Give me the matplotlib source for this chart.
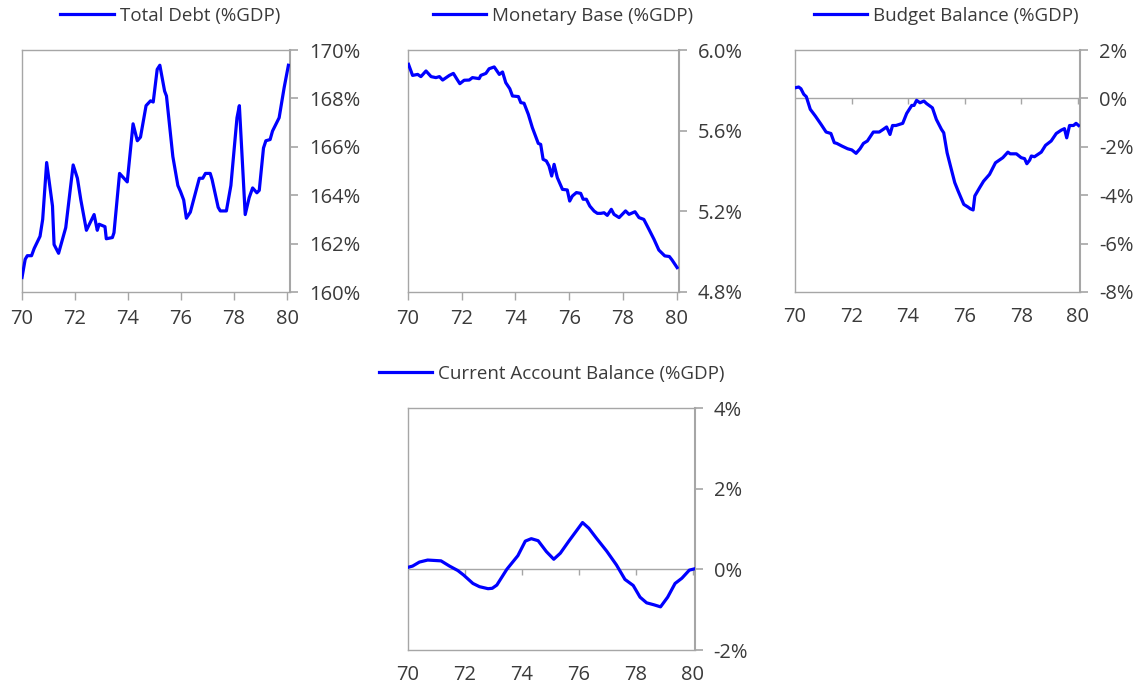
import matplotlib
matplotlib.use("Agg")
import matplotlib.pyplot as plt
from matplotlib.lines import Line2D


# ---- data (decimal years, % of GDP) ----
DEBT_X = [70.0, 70.12, 70.2, 70.36, 70.46, 70.68, 70.78, 70.93, 71.15, 71.21, 71.38, 71.65,
          71.93, 72.09, 72.22, 72.43, 72.72, 72.84, 72.91, 73.13, 73.18, 73.41, 73.47, 73.68,
          73.97, 74.19, 74.35, 74.47, 74.68, 74.85, 74.95, 75.1, 75.2, 75.38, 75.45, 75.69,
          75.88, 75.98, 76.1, 76.2, 76.35, 76.69, 76.82, 76.92, 77.1, 77.17, 77.4, 77.48,
          77.71, 77.88, 78.11, 78.2, 78.42, 78.57, 78.7, 78.86, 78.95, 79.11, 79.2, 79.36,
          79.45, 79.7, 79.89, 80.05]
DEBT_Y = [160.6, 161.35, 161.5, 161.5, 161.8, 162.3, 163.0, 165.35, 163.55, 161.96, 161.6, 162.66,
          165.25, 164.7, 163.8, 162.55, 163.2, 162.55, 162.8, 162.7, 162.2, 162.25, 162.45, 164.9,
          164.55, 166.95, 166.25, 166.4, 167.7, 167.9, 167.85, 169.2, 169.37, 168.3, 168.1, 165.6,
          164.4, 164.15, 163.8, 163.05, 163.3, 164.7, 164.7, 164.9, 164.9, 164.65, 163.5, 163.35,
          163.35, 164.4, 167.2, 167.7, 163.2, 163.9, 164.3, 164.1, 164.2, 165.95, 166.25, 166.3,
          166.65, 167.2, 168.45, 169.37]

BASE_X = [70.02, 70.17, 70.36, 70.48, 70.67, 70.86, 71.04, 71.17, 71.29, 71.54, 71.69, 71.81,
          71.93, 72.09, 72.28, 72.4, 72.65, 72.71, 72.9, 73.02, 73.21, 73.4, 73.52, 73.64,
          73.79, 73.89, 74.11, 74.2, 74.32, 74.48, 74.63, 74.85, 74.94, 75.03, 75.15, 75.25,
          75.35, 75.44, 75.56, 75.75, 75.93, 76.02, 76.12, 76.27, 76.43, 76.52, 76.64, 76.77,
          76.93, 77.05, 77.18, 77.3, 77.42, 77.57, 77.67, 77.86, 78.1, 78.23, 78.45, 78.6,
          78.78, 78.97, 79.16, 79.34, 79.56, 79.73, 79.83, 80.02]
BASE_Y = [5.929, 5.874, 5.879, 5.868, 5.896, 5.868, 5.863, 5.868, 5.851, 5.874, 5.884, 5.858,
          5.833, 5.85, 5.851, 5.863, 5.858, 5.874, 5.884, 5.907, 5.916, 5.879, 5.891, 5.838,
          5.808, 5.772, 5.769, 5.739, 5.736, 5.681, 5.615, 5.537, 5.532, 5.458, 5.45, 5.425,
          5.375, 5.433, 5.367, 5.309, 5.306, 5.251, 5.276, 5.293, 5.289, 5.26, 5.26, 5.226,
          5.201, 5.19, 5.19, 5.193, 5.18, 5.21, 5.185, 5.169, 5.202, 5.185, 5.198, 5.169,
          5.16, 5.111, 5.061, 5.008, 4.979, 4.976, 4.959, 4.921]

BUDGET_X = [70.01, 70.13, 70.21, 70.31, 70.4, 70.54, 70.72, 70.92, 71.1, 71.27, 71.39, 71.48,
            71.66, 71.86, 72.01, 72.16, 72.3, 72.42, 72.56, 72.77, 72.98, 73.12, 73.24, 73.36,
            73.45, 73.57, 73.81, 73.95, 74.13, 74.21, 74.3, 74.42, 74.56, 74.65, 74.86, 75.0,
            75.18, 75.26, 75.38, 75.5, 75.65, 75.77, 75.97, 76.12, 76.2, 76.3, 76.36, 76.53,
            76.67, 76.88, 77.09, 77.35, 77.53, 77.61, 77.83, 78.0, 78.12, 78.2, 78.3, 78.36,
            78.47, 78.71, 78.86, 79.06, 79.24, 79.42, 79.53, 79.61, 79.71, 79.85, 79.94, 80.03]
BUDGET_Y = [0.44, 0.47, 0.4, 0.17, 0.07, -0.45, -0.73, -1.07, -1.39, -1.45, -1.83, -1.86,
            -1.97, -2.08, -2.13, -2.27, -2.08, -1.86, -1.76, -1.39, -1.39, -1.28, -1.18, -1.49,
            -1.12, -1.12, -1.03, -0.62, -0.29, -0.29, -0.08, -0.18, -0.11, -0.21, -0.39, -0.87,
            -1.28, -1.42, -2.25, -2.8, -3.48, -3.83, -4.38, -4.49, -4.56, -4.61, -4.03, -3.69,
            -3.42, -3.14, -2.66, -2.45, -2.22, -2.29, -2.29, -2.45, -2.49, -2.7, -2.55, -2.38,
            -2.41, -2.22, -1.94, -1.76, -1.45, -1.31, -1.25, -1.63, -1.12, -1.12, -1.03, -1.12]

CA_X = [70.0, 70.16, 70.4, 70.69, 70.93, 71.16, 71.46, 71.75, 71.95, 72.28, 72.51, 72.81,
        72.96, 73.12, 73.47, 73.86, 74.12, 74.33, 74.57, 74.86, 75.12, 75.35, 75.65, 76.13,
        76.35, 76.62, 76.98, 77.32, 77.62, 77.91, 78.15, 78.38, 78.64, 78.87, 79.12, 79.38,
        79.62, 79.88, 80.05]
CA_Y = [0.05, 0.08, 0.18, 0.23, 0.22, 0.21, 0.08, -0.03, -0.14, -0.35, -0.43, -0.48,
        -0.47, -0.39, 0.0, 0.34, 0.7, 0.76, 0.71, 0.44, 0.25, 0.4, 0.7, 1.16,
        1.02, 0.77, 0.45, 0.11, -0.25, -0.4, -0.69, -0.83, -0.88, -0.93, -0.69, -0.35,
        -0.22, -0.02, 0.01]

X_TICKS = [70, 72, 74, 76, 78, 80]
X_LABELS = ["70", "72", "74", "76", "78", "80"]

DEBT_TICKS = [160, 162, 164, 166, 168, 170]
DEBT_LABELS = ["160%", "162%", "164%", "166%", "168%", "170%"]
BASE_TICKS = [4.8, 5.2, 5.6, 6.0]
BASE_LABELS = ["4.8%", "5.2%", "5.6%", "6.0%"]
BUDGET_TICKS = [-8, -6, -4, -2, 0, 2]
BUDGET_LABELS = ["-8%", "-6%", "-4%", "-2%", "0%", "2%"]
CA_TICKS = [-2, 0, 2, 4]
CA_LABELS = ["-2%", "0%", "2%", "4%"]

LINE_COLOR = "#0000ff"
FRAME_COLOR = "#a6a6a6"
TEXT_COLOR = "#3a3a3a"
TICK_PX = 6
AX_H_PX = 242

plt.rcParams["font.family"] = ["Open Sans", "DejaVu Sans"]


def make_panel(fig, rect, x, y, title, yticks, ylabels, xmax, legend_x, zero_line):
    ax = fig.add_axes(rect)

    ax.set_xlim(70, xmax)
    ax.set_ylim(yticks[0], yticks[-1])
    ax.set_xticks(X_TICKS)
    ax.set_xticklabels(X_LABELS)
    ax.set_yticks(yticks)
    ax.set_yticklabels(ylabels)

    ax.yaxis.tick_right()
    for side, spine in ax.spines.items():
        spine.set_color(FRAME_COLOR)
        spine.set_linewidth(1.5 if side == "right" else 1.0)

    ax.tick_params(axis="y", direction="out", length=TICK_PX, width=1.2, pad=7.5,
                   color=FRAME_COLOR, labelcolor=TEXT_COLOR, labelsize=14.5)
    ax.tick_params(axis="x", direction="out", length=TICK_PX, width=1.0, pad=6,
                   color=FRAME_COLOR, labelcolor=TEXT_COLOR, labelsize=14.5)

    if zero_line:
        # x ticks hang from the zero line, labels stay at the bottom
        ax.tick_params(axis="x", length=0, pad=10.5)
        ax.axhline(0, color=FRAME_COLOR, lw=1.0, zorder=1)
        drop = TICK_PX / AX_H_PX * (yticks[-1] - yticks[0])
        ax.vlines(X_TICKS[1:], -drop, 0, color=FRAME_COLOR, lw=1.0, zorder=1)

    ax.plot(x, y, color=LINE_COLOR, lw=2.3, solid_joinstyle="round", zorder=3)

    handle = Line2D([0], [0], color=LINE_COLOR, lw=2.3)
    ax.legend([handle], [title], loc="center", bbox_to_anchor=(legend_x, 1 + 34 / AX_H_PX),
              frameon=False, fontsize=13.5, handlelength=2.83, handletextpad=0.32,
              labelcolor=TEXT_COLOR, borderpad=0)
    return ax


def main() -> None:
    fig = plt.figure(figsize=(11.45, 6.89), dpi=100)

    make_panel(fig, [22 / 1145, 1 - 292 / 689, 268 / 1145, AX_H_PX / 689],
               DEBT_X, DEBT_Y, "Total Debt (%GDP)", DEBT_TICKS, DEBT_LABELS,
               80.11, 0.553, False)
    make_panel(fig, [408 / 1145, 1 - 292 / 689, 271 / 1145, AX_H_PX / 689],
               BASE_X, BASE_Y, "Monetary Base (%GDP)", BASE_TICKS, BASE_LABELS,
               80.09, 0.572, False)
    make_panel(fig, [795 / 1145, 1 - 292 / 689, 285 / 1145, AX_H_PX / 689],
               BUDGET_X, BUDGET_Y, "Budget Balance (%GDP)", BUDGET_TICKS, BUDGET_LABELS,
               80.08, 0.53, True)
    make_panel(fig, [408 / 1145, 1 - 650 / 689, 287 / 1145, AX_H_PX / 689],
               CA_X, CA_Y, "Current Account Balance (%GDP)", CA_TICKS, CA_LABELS,
               80.08, 0.50, True)

    fig.savefig("out.png", dpi=100)
    plt.close(fig)


if __name__ == "__main__":
    main()
